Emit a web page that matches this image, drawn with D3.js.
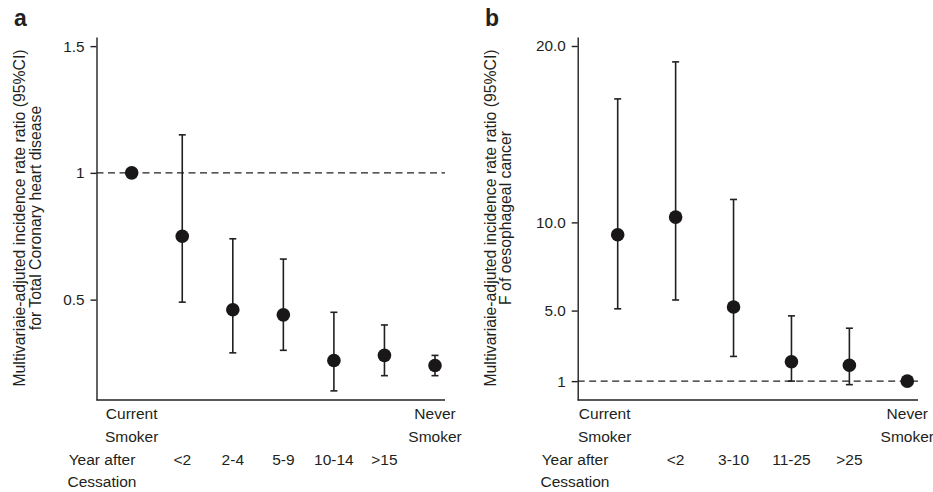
<!DOCTYPE html>
<html>
<head>
<meta charset="utf-8">
<script src="https://cdn.jsdelivr.net/npm/d3@7"></script>
<style>
  body { margin: 0; background: #fff; }
  svg { display: block; }
  text { font-family: "Liberation Sans", Arial, sans-serif; fill: #231f20; }
</style>
</head>
<body>
<svg id="chart" width="933" height="492"></svg>
<script>
// panel a - coronary heart disease
var catsA = ["Current|Smoker", "<2", "2-4", "5-9", "10-14", ">15", "Never|Smoker"];
var estA = [1.00, 0.75, 0.46, 0.44, 0.26, 0.28, 0.24];
var lowA = [null, 0.49, 0.29, 0.30, 0.14, 0.20, 0.20];
var highA = [null, 1.15, 0.74, 0.66, 0.45, 0.40, 0.28];
var ticksA = [0.5, 1, 1.5];
var tickLabelsA = ["0.5", "1", "1.5"];

// panel b - oesophageal cancer
var catsB = ["Current|Smoker", "<2", "3-10", "11-25", ">25", "Never|Smoker"];
var estB = [9.3, 10.3, 5.2, 2.1, 1.9, 1.0];
var lowB = [5.1, 5.6, 2.4, 1.0, 0.8, null];
var highB = [17.0, 19.1, 11.3, 4.7, 4.0, null];
var ticksB = [1, 5, 10, 20];
var tickLabelsB = ["1", "5.0", "10.0", "20.0"];

var titleLine1 = "Multivariaie-adjuted incidence rate ratio (95%CI)";
var yearLabel = ["Year after", "Cessation"];

var svg = d3.select("#chart");
var ink = "#231f20";
var top_ = 37, bottom = 400;

function drawPanel(p) {
    var g = svg.append("g");

    var x = d3.scalePoint().domain(p.cats).range(p.xRange);
    var y = d3.scaleLinear().domain(p.yDomain).range([bottom, top_]);

    // panel letter
    g.append("text")
        .attr("x", p.letterX).attr("y", 26)
        .attr("font-size", 23).attr("font-weight", "bold")
        .text(p.letter);

    // y axis
    var yAxis = d3.axisLeft(y)
        .tickValues(p.ticks)
        .tickFormat(function (d, i) { return p.tickLabels[i]; })
        .tickSize(6).tickSizeOuter(0).tickPadding(6);
    var ya = g.append("g")
        .attr("transform", "translate(" + p.axisX + ",0)")
        .call(yAxis);
    ya.selectAll("path, line").attr("stroke", ink).attr("stroke-width", 1.4);
    ya.selectAll("text").attr("font-size", 15.3).attr("fill", ink)
        .style("font-family", "'Liberation Sans', Arial, sans-serif");

    // x axis line
    g.append("line")
        .attr("x1", p.axisX).attr("x2", p.axisEnd)
        .attr("y1", bottom).attr("y2", bottom)
        .attr("stroke", ink).attr("stroke-width", 1.4);

    // reference line at 1
    g.append("line")
        .attr("x1", p.axisX).attr("x2", p.axisEnd)
        .attr("y1", y(1)).attr("y2", y(1))
        .attr("stroke", ink).attr("stroke-width", 1.3)
        .attr("stroke-dasharray", "7,4.5");

    // y titles
    [titleLine1, p.title2].forEach(function (t, i) {
        g.append("text")
            .attr("transform", "translate(" + p.titleX[i] + ",218) rotate(-90)")
            .attr("text-anchor", "middle")
            .attr("dy", "0.35em")
            .attr("font-size", 15.8)
            .text(t);
    });

    var rows = p.cats.map(function (c, i) {
        return { cat: c, est: p.est[i], low: p.low[i], high: p.high[i] };
    });

    // error bars
    var ci = g.selectAll(".ci").data(rows.filter(function (d) { return d.low != null; }))
        .enter().append("g").attr("class", "ci")
        .attr("stroke", ink).attr("stroke-width", 1.6);
    ci.append("line")
        .attr("x1", function (d) { return x(d.cat); })
        .attr("x2", function (d) { return x(d.cat); })
        .attr("y1", function (d) { return y(d.low); })
        .attr("y2", function (d) { return y(d.high); });
    ["low", "high"].forEach(function (k) {
        ci.append("line")
            .attr("x1", function (d) { return x(d.cat) - 3.5; })
            .attr("x2", function (d) { return x(d.cat) + 3.5; })
            .attr("y1", function (d) { return y(d[k]); })
            .attr("y2", function (d) { return y(d[k]); });
    });

    // points
    g.selectAll(".dot").data(rows).enter().append("circle")
        .attr("class", "dot")
        .attr("cx", function (d) { return x(d.cat); })
        .attr("cy", function (d) { return y(d.est); })
        .attr("r", 6.8)
        .attr("fill", "#1a1718");

    // category labels
    rows.forEach(function (d, i) {
        var parts = d.cat.split("|");
        var cx = x(d.cat) + (i === 0 ? p.firstDx : 0);
        if (parts.length === 2) {
            parts.forEach(function (s, j) {
                g.append("text")
                    .attr("x", cx).attr("y", 419 + j * 23)
                    .attr("text-anchor", "middle").attr("font-size", 15.5)
                    .text(s);
            });
        } else {
            g.append("text")
                .attr("x", cx).attr("y", 465)
                .attr("text-anchor", "middle").attr("font-size", 15.5)
                .text(parts[0]);
        }
    });

    yearLabel.forEach(function (s, j) {
        g.append("text")
            .attr("x", p.yearX).attr("y", 465 + j * 22)
            .attr("text-anchor", "middle").attr("font-size", 15.5)
            .text(s);
    });
}

drawPanel({
    letter: "a", letterX: 14,
    cats: catsA, est: estA, low: lowA, high: highA,
    ticks: ticksA, tickLabels: tickLabelsA,
    yDomain: [0.104, 1.536],
    axisX: 96.5, axisEnd: 445, xRange: [131.7, 435],
    titleX: [19.5, 35], title2: "for Total Coronary heart disease",
    firstDx: 0, yearX: 102
});

drawPanel({
    letter: "b", letterX: 485,
    cats: catsB, est: estB, low: lowB, high: highB,
    ticks: ticksB, tickLabels: tickLabelsB,
    yDomain: [-0.07, 20.51],
    axisX: 577.7, axisEnd: 918, xRange: [617.7, 907.3],
    titleX: [490, 505], title2: "F of oesophageal cancer",
    firstDx: -13, yearX: 575
});
</script>
</body>
</html>
